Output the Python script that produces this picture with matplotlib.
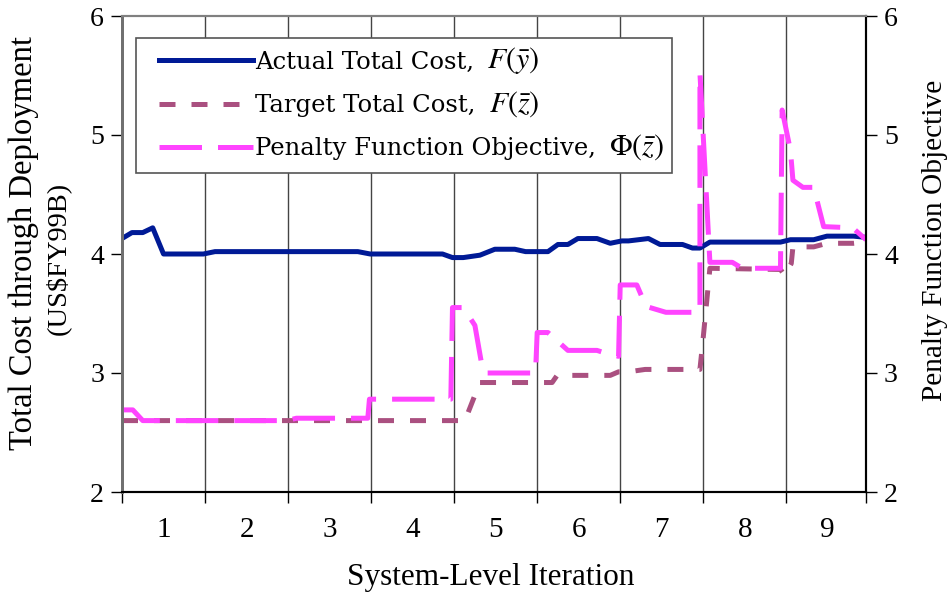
import matplotlib
matplotlib.use("Agg")
import matplotlib.pyplot as plt
from matplotlib.patches import Rectangle

# values (x = system-level iteration position)
actual_x = [0, 0.12, 0.25, 0.37, 0.5, 0.98, 1.12, 2.84, 2.99, 3.86, 3.98, 4.11, 4.31, 4.49,
            4.73, 4.86, 5.13, 5.25, 5.37, 5.49, 5.72, 5.88, 6.02, 6.1, 6.34, 6.48, 6.75, 6.87,
            6.96, 7.08, 7.93, 8.05, 8.33, 8.49, 8.81, 8.96]
actual_y = [4.13, 4.18, 4.18, 4.22, 4.0, 4.0, 4.02, 4.02, 4.0, 4.0, 3.97, 3.97, 3.99, 4.04,
            4.04, 4.02, 4.02, 4.08, 4.08, 4.13, 4.13, 4.09, 4.11, 4.11, 4.13, 4.08, 4.08, 4.05,
            4.05, 4.10, 4.10, 4.12, 4.12, 4.15, 4.15, 4.14]

target_x = [0, 4.13, 4.31, 5.18, 5.24, 5.88, 5.98, 6.1, 6.3, 6.96, 7.0, 7.08, 7.93, 7.98,
            8.06, 8.08, 8.33, 8.49, 8.81, 8.96]
target_y = [2.60, 2.60, 2.92, 2.92, 2.98, 2.98, 3.01, 3.01, 3.03, 3.03, 3.3, 3.88, 3.87, 3.82,
            3.92, 4.06, 4.06, 4.09, 4.09, 4.10]

penalty_x = [0, 0.13, 0.25, 1.99, 2.1, 2.96, 2.98, 3.96, 3.98, 4.11, 4.25, 4.33, 4.37, 4.98,
             5.0, 5.13, 5.29, 5.37, 5.72, 5.81, 5.98, 6.0, 6.2, 6.31, 6.55, 6.96, 6.96, 7.08,
             7.35, 7.47, 7.93, 7.95, 8.05, 8.08, 8.2, 8.33, 8.45, 8.8, 8.96]
penalty_y = [2.69, 2.69, 2.60, 2.60, 2.62, 2.62, 2.78, 2.78, 3.55, 3.55, 3.40, 3.08, 3.0, 3.0,
             3.34, 3.34, 3.24, 3.19, 3.19, 3.17, 3.14, 3.74, 3.74, 3.56, 3.51, 3.51, 5.52, 3.93,
             3.93, 3.88, 3.88, 5.21, 4.87, 4.62, 4.56, 4.56, 4.23, 4.22, 4.12]

iterations = ["1", "2", "3", "4", "5", "6", "7", "8", "9"]
y_ticks = [2, 3, 4, 5, 6]

legend_names = ["Actual Total Cost,", "Target Total Cost,", "Penalty Function Objective,"]
legend_math = [r"$F(\bar{y})$", r"$F(\bar{z})$", r"$\Phi(\bar{z})$"]

SERIF = "Liberation Serif"
plt.rcParams["font.family"] = SERIF
plt.rcParams["mathtext.fontset"] = "stix"

W, H = 950, 595
fig = plt.figure(figsize=(W / 100, H / 100), dpi=100)
ax = fig.add_axes([122 / W, 1 - 492 / H, 744 / W, 476 / H])
ax2 = ax.twinx()

blue = "#001A96"
mauve = "#AA5080"
magenta = "#FF44FF"

l1, = ax.plot(actual_x, actual_y, color=blue, lw=3.6)
l2, = ax.plot(target_x, target_y, color=mauve, lw=3.6, linestyle=(0, (3.2, 3.2)))
l3, = ax2.plot(penalty_x, penalty_y, color=magenta, lw=3.6, linestyle=(0, (8.5, 3.2)))

xmax = 8.96
for a in (ax, ax2):
    a.set_xlim(0, xmax)
    a.set_ylim(2, 6)
    a.set_yticks(y_ticks)
    a.set_yticklabels([str(v) for v in y_ticks], family=SERIF, fontsize=20)

# vertical grid lines between iterations, labels centred in each iteration
ax.set_xticks(list(range(9)) + [xmax])
ax.set_xticklabels([])
ax.set_xticks([i + 0.5 for i in range(9)], minor=True)
ax.set_xticklabels(iterations, minor=True, family=SERIF, fontsize=21)
ax.tick_params(axis="x", which="major", direction="out", length=8, width=1, color="black")
ax.tick_params(axis="x", which="minor", length=0, pad=18)
ax.grid(axis="x", which="major", color="#444444", lw=1)
ax.set_axisbelow(True)

ax.tick_params(axis="y", direction="out", length=8, width=1, pad=5)
ax2.tick_params(axis="y", direction="out", length=8, width=1, pad=5)

for a in (ax, ax2):
    a.spines["left"].set_color("#707070")
    a.spines["left"].set_linewidth(2)
    a.spines["top"].set_color("#808080")
    a.spines["top"].set_linewidth(1.5)
    a.spines["bottom"].set_color("black")
    a.spines["bottom"].set_linewidth(1.5)
    a.spines["right"].set_color("black")
    a.spines["right"].set_linewidth(1.5)

fig.text(491 / W, 1 - 577 / H, "System-Level Iteration", family=SERIF, fontsize=22.5,
         ha="center", va="center")
fig.text(24 / W, 1 - 243 / H, "Total Cost through Deployment", family=SERIF,
         fontsize=23.5, rotation=90, ha="center", va="center")
fig.text(58 / W, 1 - 258 / H, "(US\\$FY99B)", family=SERIF, fontsize=20.5,
         rotation=90, ha="center", va="center")
fig.text(935 / W, 1 - 240 / H, "Penalty Function Objective", family=SERIF,
         fontsize=21.2, rotation=90, ha="center", va="center")

# legend: white box, handles + names, larger math symbols after the names
box = Rectangle((136 / W, 1 - 173 / H), 536 / W, 135 / H, transform=fig.transFigure,
                facecolor="white", edgecolor="#555555", lw=1.2, zorder=1)
fig.add_artist(box)
leg_size = 17.5
leg = fig.legend([l1, l2, l3], legend_names, loc="upper left",
                 bbox_to_anchor=(159 / W, 1 - 51 / H), borderaxespad=0, borderpad=0,
                 prop={"family": "DejaVu Serif", "size": leg_size}, frameon=False,
                 handlelength=3.85, handletextpad=0.12, labelspacing=0.83)
leg.set_zorder(5)

fig.canvas.draw()
renderer = fig.canvas.get_renderer()
for t, m in zip(leg.get_texts(), legend_math):
    bb = t.get_window_extent(renderer)
    fig.text((bb.x1 + 13) / W, (bb.y0 + 0.23 * leg_size * 100 / 72) / H, m,
             fontsize=21.5, ha="left", va="baseline", zorder=6)

fig.savefig("out.png", dpi=100)
